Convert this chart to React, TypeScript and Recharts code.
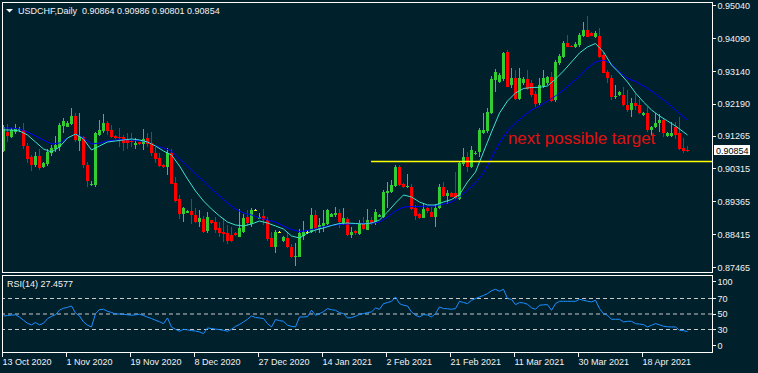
import React from 'react';
import { ComposedChart, LineChart, Bar, Line, XAxis, YAxis, ReferenceLine, ReferenceDot } from 'recharts';

// USDCHF daily candles, 13 Oct 2020 .. 23 Apr 2021 (one value per bar)
const opens = [
  0.90835, 0.91384, 0.91240, 0.91384, 0.91442, 0.91442, 0.90980, 0.90662, 0.90431, 0.90691,
  0.90373, 0.90459, 0.90777, 0.90893, 0.90951, 0.91557, 0.91529, 0.91615, 0.91847, 0.91124,
  0.91240, 0.90431, 0.89867, 0.89853, 0.91298, 0.91413, 0.91644, 0.91442, 0.91269, 0.91231,
  0.91240, 0.91153, 0.91124, 0.91009, 0.91095, 0.91038, 0.91211, 0.91066, 0.90777, 0.90633,
  0.90431, 0.90373, 0.90777, 0.89910, 0.89448, 0.89014, 0.89043, 0.89101, 0.88985, 0.88783,
  0.88870, 0.88523, 0.88841, 0.88783, 0.88610, 0.88494, 0.88465, 0.88407, 0.88465, 0.88350,
  0.88494, 0.88928, 0.88725, 0.89130, 0.88870, 0.88957, 0.88841, 0.88321, 0.88061, 0.88494,
  0.88234, 0.88321, 0.88061, 0.87772, 0.87772, 0.88379, 0.88494, 0.88494, 0.88985, 0.88581,
  0.88668, 0.88725, 0.88928, 0.88985, 0.89043, 0.88754, 0.88870, 0.88407, 0.88523, 0.88436,
  0.88725, 0.88552, 0.88841, 0.88754, 0.88928, 0.88928, 0.89621, 0.89650, 0.89824, 0.90373,
  0.89882, 0.89795, 0.89795, 0.89188, 0.89014, 0.88899, 0.89188, 0.89072, 0.88928, 0.89188,
  0.89795, 0.89535, 0.89621, 0.89621, 0.89448, 0.90459, 0.90662, 0.90373, 0.90748, 0.90806,
  0.91355, 0.91413, 0.91933, 0.92887, 0.92829, 0.92916, 0.93696, 0.92742, 0.92945, 0.92338,
  0.92800, 0.92916, 0.92800, 0.92483, 0.92222, 0.92714, 0.92800, 0.92974, 0.92309, 0.93378,
  0.93552, 0.93956, 0.93870, 0.93841, 0.93898, 0.94159, 0.94332, 0.94245, 0.94130, 0.94159,
  0.93609, 0.93118, 0.92945, 0.92396, 0.92453, 0.92453, 0.92164, 0.92020, 0.92222, 0.92164,
  0.91875, 0.91933, 0.91442, 0.91529, 0.91644, 0.91731, 0.91269, 0.91269, 0.91529, 0.91355,
  0.90922, 0.90864,
];
const highs = [
  0.91586, 0.91615, 0.91500, 0.91615, 0.91529, 0.91644, 0.91066, 0.90719, 0.90806, 0.90893,
  0.90517, 0.90893, 0.91009, 0.91269, 0.91644, 0.91789, 0.91702, 0.92078, 0.91933, 0.91933,
  0.91269, 0.90517, 0.89959, 0.91384, 0.91731, 0.91904, 0.91702, 0.91586, 0.91298, 0.91500,
  0.91298, 0.91355, 0.91355, 0.91211, 0.91104, 0.91471, 0.91355, 0.91384, 0.90951, 0.90777,
  0.90459, 0.90922, 0.90893, 0.90084, 0.89564, 0.89217, 0.89130, 0.89448, 0.89188, 0.89130,
  0.88957, 0.89072, 0.88850, 0.88928, 0.88783, 0.88899, 0.88697, 0.88638, 0.88494, 0.89159,
  0.89014, 0.89130, 0.89188, 0.89159, 0.89043, 0.89159, 0.88928, 0.88494, 0.88552, 0.88523,
  0.88379, 0.88465, 0.88147, 0.88176, 0.88581, 0.88812, 0.88552, 0.89188, 0.89130, 0.88899,
  0.89130, 0.89159, 0.89029, 0.89217, 0.89159, 0.89188, 0.88928, 0.88638, 0.88552, 0.88841,
  0.88928, 0.89159, 0.88928, 0.89159, 0.89014, 0.89708, 0.89939, 0.89997, 0.90431, 0.90431,
  0.89910, 0.90170, 0.89882, 0.89274, 0.89043, 0.89332, 0.89217, 0.89217, 0.89303, 0.89882,
  0.89939, 0.89708, 0.89650, 0.90228, 0.90546, 0.90922, 0.90806, 0.90980, 0.90835, 0.91500,
  0.91933, 0.92078, 0.92997, 0.93205, 0.93089, 0.93696, 0.93754, 0.93234, 0.93176, 0.93234,
  0.92974, 0.93176, 0.92887, 0.92569, 0.92945, 0.93176, 0.93003, 0.93118, 0.93465, 0.93638,
  0.94014, 0.94184, 0.93884, 0.93985, 0.94245, 0.94563, 0.94735, 0.94274, 0.94289, 0.94390,
  0.93667, 0.93176, 0.93031, 0.92742, 0.92569, 0.92685, 0.92598, 0.92367, 0.92483, 0.92338,
  0.91962, 0.92107, 0.91557, 0.91933, 0.91904, 0.91789, 0.91393, 0.91673, 0.91673, 0.91818,
  0.91211, 0.90986,
];
const lows = [
  0.90806, 0.91095, 0.91211, 0.91326, 0.91384, 0.90893, 0.90488, 0.90257, 0.90373, 0.90286,
  0.90344, 0.90402, 0.90691, 0.90806, 0.90835, 0.91355, 0.91515, 0.91586, 0.91095, 0.90835,
  0.90344, 0.89795, 0.89824, 0.89795, 0.91269, 0.91355, 0.91298, 0.91211, 0.91182, 0.90951,
  0.90835, 0.90893, 0.90951, 0.90893, 0.91009, 0.90864, 0.90951, 0.90691, 0.90488, 0.90373,
  0.90344, 0.90142, 0.89867, 0.89361, 0.88870, 0.88783, 0.89034, 0.88725, 0.88754, 0.88638,
  0.88465, 0.88465, 0.88725, 0.88465, 0.88350, 0.88205, 0.88147, 0.88205, 0.88379, 0.88336,
  0.88465, 0.88668, 0.88638, 0.89101, 0.88861, 0.88697, 0.88234, 0.88061, 0.87887, 0.88465,
  0.88205, 0.88032, 0.87743, 0.87512, 0.87763, 0.88263, 0.88436, 0.88465, 0.88465, 0.88465,
  0.88494, 0.88697, 0.88914, 0.88928, 0.88610, 0.88697, 0.88379, 0.88321, 0.88407, 0.88407,
  0.88552, 0.88538, 0.88697, 0.88697, 0.88919, 0.88899, 0.89188, 0.89621, 0.89795, 0.89824,
  0.89766, 0.89766, 0.89130, 0.88841, 0.88870, 0.88890, 0.89043, 0.88928, 0.88638, 0.89150,
  0.89506, 0.89303, 0.89506, 0.89448, 0.89419, 0.90402, 0.90228, 0.90335, 0.90719, 0.90662,
  0.91326, 0.91355, 0.91904, 0.92540, 0.92800, 0.92858, 0.92676, 0.92656, 0.92309, 0.92309,
  0.92742, 0.92598, 0.92396, 0.92107, 0.92164, 0.92656, 0.92742, 0.92251, 0.92251, 0.93320,
  0.93523, 0.93830, 0.93841, 0.93812, 0.93841, 0.94130, 0.94120, 0.94144, 0.94101, 0.93523,
  0.93080, 0.92800, 0.92309, 0.92338, 0.92425, 0.92136, 0.91962, 0.91818, 0.92020, 0.91904,
  0.91860, 0.91384, 0.91298, 0.91500, 0.91384, 0.91240, 0.91249, 0.91240, 0.91182, 0.90864,
  0.90777, 0.90801,
];
const closes = [
  0.91529, 0.91269, 0.91442, 0.91500, 0.91471, 0.90980, 0.90604, 0.90431, 0.90691, 0.90344,
  0.90488, 0.90806, 0.90922, 0.91009, 0.91586, 0.91702, 0.91644, 0.91847, 0.91153, 0.91269,
  0.90431, 0.89968, 0.89890, 0.91355, 0.91442, 0.91644, 0.91413, 0.91240, 0.91211, 0.91211,
  0.91066, 0.91066, 0.91095, 0.91066, 0.91038, 0.91182, 0.91038, 0.90777, 0.90604, 0.90402,
  0.90373, 0.90777, 0.89890, 0.89390, 0.89014, 0.89188, 0.89101, 0.88985, 0.88783, 0.88899,
  0.88494, 0.88928, 0.88754, 0.88552, 0.88465, 0.88436, 0.88234, 0.88234, 0.88407, 0.88610,
  0.88899, 0.88754, 0.89130, 0.89130, 0.88928, 0.88841, 0.88292, 0.88070, 0.88494, 0.88494,
  0.88350, 0.88061, 0.87772, 0.87801, 0.88465, 0.88494, 0.88494, 0.88985, 0.88581, 0.88697,
  0.88754, 0.89130, 0.89014, 0.89043, 0.88783, 0.88899, 0.88407, 0.88494, 0.88465, 0.88754,
  0.88581, 0.88841, 0.88754, 0.89072, 0.88985, 0.89650, 0.89679, 0.89853, 0.90373, 0.89853,
  0.89795, 0.89824, 0.89159, 0.88957, 0.88899, 0.89159, 0.89101, 0.88937, 0.89188, 0.89795,
  0.89535, 0.89621, 0.89515, 0.89477, 0.90488, 0.90662, 0.90373, 0.90864, 0.90777, 0.91442,
  0.91442, 0.91962, 0.92916, 0.93118, 0.93031, 0.93667, 0.92694, 0.92945, 0.92338, 0.92945,
  0.92916, 0.92627, 0.92453, 0.92193, 0.92742, 0.92945, 0.92974, 0.92280, 0.93407, 0.93581,
  0.93956, 0.93841, 0.93851, 0.93927, 0.94184, 0.94332, 0.94140, 0.94159, 0.94245, 0.93552,
  0.93100, 0.92945, 0.92396, 0.92425, 0.92540, 0.92164, 0.92020, 0.92222, 0.92136, 0.91933,
  0.91933, 0.91442, 0.91529, 0.91644, 0.91731, 0.91355, 0.91355, 0.91355, 0.91298, 0.90893,
  0.90835, 0.90854,
];

// moving averages every second bar (plus the last bar)
const maBars = [...Array.from({ length: 86 }, (_, k) => k * 2), 171];
const maFast = [
  0.91442, 0.91442, 0.91413, 0.91297, 0.91095, 0.90893, 0.90806, 0.90951, 0.91211, 0.91326,
  0.91182, 0.90864, 0.90980, 0.91095, 0.91124, 0.91153, 0.91182, 0.91153, 0.91095, 0.90980,
  0.90835, 0.90720, 0.90402, 0.90026, 0.89679, 0.89390, 0.89159, 0.88957, 0.88783, 0.88697,
  0.88668, 0.88725, 0.88812, 0.88754, 0.88668, 0.88581, 0.88379, 0.88321, 0.88465, 0.88552,
  0.88610, 0.88682, 0.88740, 0.88754, 0.88740, 0.88725, 0.88754, 0.88841, 0.89072, 0.89332,
  0.89564, 0.89506, 0.89361, 0.89275, 0.89275, 0.89361, 0.89433, 0.89578, 0.89939, 0.90228,
  0.90806, 0.91384, 0.91933, 0.92280, 0.92511, 0.92641, 0.92670, 0.92676, 0.92714, 0.92916,
  0.93147, 0.93407, 0.93667, 0.93841, 0.93942, 0.93696, 0.93321, 0.93089, 0.92829, 0.92511,
  0.92251, 0.92020, 0.91847, 0.91702, 0.91558, 0.91384, 0.91297,
];
const maSlow = [
  0.91500, 0.91500, 0.91471, 0.91384, 0.91269, 0.91153, 0.91037, 0.91066, 0.91211, 0.91326,
  0.91211, 0.91037, 0.91066, 0.91124, 0.91153, 0.91167, 0.91153, 0.91139, 0.91095, 0.90980,
  0.90922, 0.90835, 0.90604, 0.90402, 0.90170, 0.89968, 0.89737, 0.89535, 0.89332, 0.89159,
  0.89043, 0.88986, 0.88899, 0.88841, 0.88783, 0.88668, 0.88566, 0.88509, 0.88538, 0.88595,
  0.88653, 0.88682, 0.88711, 0.88725, 0.88734, 0.88746, 0.88746, 0.88783, 0.88928, 0.89101,
  0.89217, 0.89231, 0.89231, 0.89246, 0.89246, 0.89303, 0.89361, 0.89506, 0.89708, 0.89910,
  0.90199, 0.90633, 0.91066, 0.91413, 0.91644, 0.91847, 0.92020, 0.92136, 0.92280, 0.92425,
  0.92598, 0.92800, 0.93003, 0.93234, 0.93407, 0.93465, 0.93349, 0.93118, 0.92930, 0.92844,
  0.92714, 0.92569, 0.92396, 0.92222, 0.92020, 0.91818, 0.91731,
];

// RSI(14), one value per bar
const rsi = [
  47.5, 48, 48.5, 49, 46, 42, 38, 36, 39, 36,
  38, 44, 47, 49, 55, 57.5, 58.5, 60.4, 51.4, 47.5,
  39.8, 35.5, 33.3, 50.5, 55.7, 56.1, 53.5, 52, 50.1, 50,
  49.7, 49, 48.4, 49, 49.7, 48, 46, 44.1, 42, 40,
  37.6, 44.9, 33, 30.3, 27.7, 30.3, 29.5, 28.6, 28, 26.9,
  24.7, 32, 31.2, 30.5, 29.9, 29, 27.7, 30.3, 34, 36.5,
  39.8, 43.2, 47.5, 45.5, 44.9, 44.1, 37.6, 33.3, 42.8, 41.5,
  40.6, 35.5, 34, 33.3, 46.2, 46.2, 46.5, 54.8, 48.4, 50.5,
  53, 57, 55.5, 54.8, 51.8, 50.5, 44.9, 45.4, 47, 49.7,
  50.5, 51.8, 52.7, 57.8, 56.1, 63.4, 64.7, 66.4, 72, 63.4,
  61.3, 60.4, 52.7, 48.4, 46.2, 49.2, 48.8, 46.2, 50.5, 59.1,
  57, 56.8, 56.1, 57, 66.4, 64.8, 63.4, 67.7, 69.9, 72,
  74, 76.3, 80, 81.9, 79.4, 81.9, 69.9, 69, 62.1, 64.7,
  64.3, 62.5, 58, 56.1, 61.3, 61.8, 62.1, 54.8, 63.4, 66.4,
  66.4, 66.4, 66.4, 66.4, 69, 67.7, 66.5, 65.6, 67.7, 57,
  50.5, 48.4, 43.2, 43.2, 43.2, 39.8, 40.6, 40.6, 37.6, 37,
  36.3, 33.3, 35.5, 37.6, 36, 34.2, 33.5, 33.3, 33.3, 29,
  28.5, 27.4577,
];

const dateTicks = [0, 16, 32, 48, 64, 80, 96, 112, 128, 144, 160];
const dateLabels = [
  '13 Oct 2020', '1 Nov 2020', '19 Nov 2020', '8 Dec 2020', '27 Dec 2020', '14 Jan 2021',
  '2 Feb 2021', '21 Feb 2021', '11 Mar 2021', '30 Mar 2021', '18 Apr 2021',
];
const priceTicks = [0.9504, 0.9409, 0.9314, 0.9219, 0.91265, 0.90315, 0.89365, 0.88415, 0.87465];
const rsiTicks = [0, 30, 50, 70, 100];
const rsiLevels = [30, 50, 70];

const targetLevel = 0.90531;
const targetFromBar = 91.9;
const targetText = 'next possible target';
const targetTextBar = 126.1;
const targetTextPrice = 0.91037;

const LAST = closes.length - 1;
const X_DOMAIN = [-0.375, 177.125];
const PRICE_DOMAIN = [0.87338, 0.95141];

const BG = '#00202C';
const UP = '#32CD32';
const DOWN = '#FF0000';
const DOJI = '#FFFF00';
const FAST = '#40E0D0';
const SLOW = '#0000FF';
const RSI_COLOR = '#1E90FF';
const TEXT = '#F2F2F2';
const FONT = '"Liberation Sans", Arial, sans-serif';

const rows: any[] = opens.map((o, i) => ({
  i,
  open: o,
  high: highs[i],
  low: lows[i],
  close: closes[i],
  fast: null,
  slow: null,
  rsi: rsi[i],
}));
maBars.forEach((b, k) => {
  rows[b].fast = maFast[k];
  rows[b].slow = maSlow[k];
});

const Candle = (props: any) => {
  const { x, y, width, height, payload } = props;
  if (!payload || height == null) return null;
  const { open, close, high, low } = payload;
  const k = height / (high - low);
  const cx = Math.floor(x + width / 2) + 0.5;
  const yO = y + (high - open) * k;
  const yC = y + (high - close) * k;
  const color = close > open ? UP : close < open ? DOWN : DOJI;
  const top = Math.round(Math.min(yO, yC));
  const h = Math.max(1, Math.round(Math.abs(yO - yC)));
  return (
    <g>
      <line x1={cx} x2={cx} y1={Math.round(y)} y2={Math.round(y + height)} stroke={color} strokeWidth={1} shapeRendering="crispEdges" />
      <rect x={cx - 1.5} y={top} width={3} height={h} fill={color} shapeRendering="crispEdges" />
    </g>
  );
};

const PriceTick = ({ x, y, payload }: any) => {
  const v = payload.value;
  const row = Math.floor(y) + 0.5;
  if (v === closes[LAST]) {
    return (
      <g>
        <rect x={x + 2} y={Math.round(y) - 5} width={36} height={10} fill="#FFFFFF" />
        <text x={x + 4} y={y + 3.3} fill="#000000" fontSize={9} fontFamily={FONT}>{v.toFixed(5)}</text>
      </g>
    );
  }
  return (
    <g>
      <line x1={x + 1} x2={x + 4} y1={row} y2={row} stroke={TEXT} shapeRendering="crispEdges" />
      <text x={x + 5.5} y={y + 3.3} fill={TEXT} fontSize={9} fontFamily={FONT}>{v.toFixed(5)}</text>
    </g>
  );
};

const RsiTick = ({ x, y, payload }: any) => {
  const v = payload.value;
  const yy = v === 100 ? y + 6 : v === 0 ? y - 7 : y;
  const row = Math.floor(yy) + 0.5;
  return (
    <g>
      <line x1={x + 1} x2={x + 4} y1={row} y2={row} stroke={TEXT} shapeRendering="crispEdges" />
      <text x={x + 5.5} y={yy + 3.3} fill={TEXT} fontSize={9} fontFamily={FONT}>{v}</text>
    </g>
  );
};

const DateTick = ({ x, y, payload }: any) => {
  const k = dateTicks.indexOf(payload.value);
  const tx = Math.floor(x) - 0.5;
  return (
    <g>
      <line x1={tx} x2={tx} y1={y} y2={y + 4} stroke={TEXT} shapeRendering="crispEdges" />
      <text x={tx} y={y + 12} fill={TEXT} fontSize={9} fontFamily={FONT}>{dateLabels[k]}</text>
    </g>
  );
};

export default function App() {
  const header = `USDCHF,Daily  ${opens[LAST].toFixed(5)} ${highs[LAST].toFixed(5)} ${lows[LAST].toFixed(5)} ${closes[LAST].toFixed(5)}`;
  return (
    <div style={{ position: 'fixed', left: 0, top: 0, width: 758, height: 373, background: BG, overflow: 'hidden' }}>
      <div style={{ position: 'absolute', left: 0, top: 0 }}>
        <ComposedChart width={758} height={273} data={rows} margin={{ top: 2, right: 0, bottom: 1, left: 2 }}>
          <XAxis type="number" dataKey="i" domain={X_DOMAIN} allowDataOverflow hide />
          <YAxis
            orientation="right"
            width={46}
            domain={PRICE_DOMAIN}
            allowDataOverflow
            ticks={[...priceTicks, closes[LAST]]}
            interval={0}
            axisLine={false}
            tickLine={false}
            tickSize={0}
            tickMargin={0}
            tick={<PriceTick />}
          />
          <Bar dataKey={(d: any) => [d.low, d.high]} barSize={3} shape={(p: any) => <Candle {...p} />} isAnimationActive={false} />
          <Line dataKey="slow" stroke={SLOW} strokeWidth={1} dot={false} connectNulls isAnimationActive={false} />
          <Line dataKey="fast" stroke={FAST} strokeWidth={1} dot={false} connectNulls isAnimationActive={false} />
          <ReferenceLine
            segment={[{ x: targetFromBar, y: targetLevel }, { x: X_DOMAIN[1], y: targetLevel }]}
            stroke="#FFFF00"
            strokeWidth={1.5}
          />
          <ReferenceDot
            x={targetTextBar}
            y={targetTextPrice}
            r={0}
            shape={(p: any) => (
              <text x={p.cx} y={p.cy} fill="#E01010" fontSize={17} fontFamily={FONT}>{targetText}</text>
            )}
          />
        </ComposedChart>
      </div>
      <div style={{ position: 'absolute', left: 0, top: 273 }}>
        <LineChart width={758} height={100} data={rows} margin={{ top: 2.25, right: 0, bottom: 0, left: 2 }}>
          <XAxis
            type="number"
            dataKey="i"
            domain={X_DOMAIN}
            allowDataOverflow
            ticks={dateTicks}
            interval={0}
            height={20.25}
            axisLine={false}
            tickLine={false}
            tickSize={0}
            tickMargin={0}
            tick={<DateTick />}
          />
          <YAxis
            orientation="right"
            width={46}
            domain={[0, 100]}
            allowDataOverflow
            ticks={rsiTicks}
            interval={0}
            axisLine={false}
            tickLine={false}
            tickSize={0}
            tickMargin={0}
            tick={<RsiTick />}
          />
          {rsiLevels.map((lv) => (
            <ReferenceLine key={lv} y={lv} stroke="#C8C8C8" strokeDasharray="4 3" strokeWidth={1} />
          ))}
          <Line dataKey="rsi" stroke={RSI_COLOR} strokeWidth={1} dot={false} isAnimationActive={false} />
        </LineChart>
      </div>
      <svg width={758} height={373} style={{ position: 'absolute', left: 0, top: 0, pointerEvents: 'none' }}>
        <rect x={2.5} y={2.5} width={710} height={270} fill="none" stroke="#FFFFFF" strokeWidth={1} />
        <rect x={2.5} y={275.5} width={710} height={77} fill="none" stroke="#FFFFFF" strokeWidth={1} />
        <polygon points="6,9 13,9 9.5,12.5" fill="#FFFFFF" />
        <text x={18} y={14} fill={TEXT} fontSize={9} fontFamily={FONT} style={{ whiteSpace: 'pre' }}>{header}</text>
        <text x={7} y={286.5} fill={TEXT} fontSize={9} fontFamily={FONT}>{`RSI(14) ${rsi[LAST]}`}</text>
      </svg>
    </div>
  );
}
